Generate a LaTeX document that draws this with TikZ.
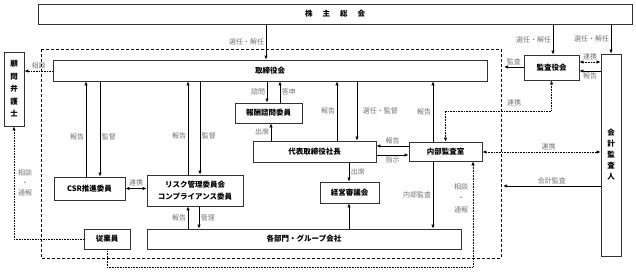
\documentclass[tikz,border=0pt]{standalone}
\usepackage{fontspec}
\newfontfamily\jp{Noto Sans CJK JP}
\usetikzlibrary{arrows.meta}

\begin{document}
\begin{tikzpicture}[x=1pt, y=-1pt, >={Latex[length=4pt,width=3.4pt]},
	box/.style={draw=black!80, line width=0.7pt, inner sep=0pt, align=center, font=\jp\bfseries\fontsize{7.5}{9}\selectfont},
	lbl/.style={font=\jp\fontsize{7}{8}\selectfont, text=black!55, inner sep=1.5pt},
	arr/.style={->, line width=0.9pt},
	dots/.style={line width=0.9pt, dash pattern=on 0.9pt off 0.7pt}]
	\useasboundingbox (0,0) rectangle (636,272);
	% boxes
	\node[box, minimum width=594pt, minimum height=20pt] (meeting) at (335,14) {株\hspace{10pt}主\hspace{10pt}総\hspace{10pt}会};
	\node[box, minimum width=434pt, minimum height=21pt] (board) at (270,70.5) {取締役会};
	\node[box, minimum width=20pt, minimum height=74pt, font=\jp\bfseries\fontsize{7.5}{12.5}\selectfont] (lawyer) at (14,89) {顧\\問\\弁\\護\\士};
	\node[box, minimum width=55pt, minimum height=25pt] (kansa) at (551.5,67.5) {監査役会};
	\node[box, minimum width=20pt, minimum height=202pt, font=\jp\bfseries\fontsize{7.5}{11}\selectfont] (account) at (611,155) {会\\計\\監\\査\\人};
	\node[box, minimum width=67pt, minimum height=20pt] (reward) at (268.5,113) {報酬諮問委員};
	\node[box, minimum width=123pt, minimum height=21pt] (ceo) at (314.5,151.5) {代表取締役社長};
	\node[box, minimum width=73pt, minimum height=19pt] (audit) at (445.5,151.5) {内部監査室};
	\node[box, minimum width=59pt, minimum height=21pt] (council) at (349.5,192.5) {経営審議会};
	\node[box, minimum width=314pt, minimum height=20pt] (depts) at (304,239) {各部門・グループ会社};
	\node[box, minimum width=46pt, minimum height=20pt] (staff) at (107,239) {従業員};
	\node[box, minimum width=71pt, minimum height=23pt] (csr) at (89.5,188.5) {CSR推進委員};
	\node[box, minimum width=96pt, minimum height=31pt, font=\jp\bfseries\fontsize{7.5}{12}\selectfont] (risk) at (195,190.5) {リスク管理委員会\\コンプライアンス委員};
	% company frame
	\draw[line width=0.9pt, dash pattern=on 3pt off 2pt] (41,49) rectangle (501,258);
	% shareholders
	\draw[arr] (meeting.south -| 266,0) -- node[lbl, left] {選任・解任} (board.north -| 266,0);
	\draw[arr] (meeting.south -| 553,0) -- node[lbl, left] {選任・解任} (kansa.north -| 553,0);
	\draw[arr] (meeting.south -| 611,0) -- node[lbl, left] {選任・解任} (account.north);
	% auditors
	\draw[dots, <->] (kansa.east |- 0,62) -- node[lbl, above] {連携} (account.west |- 0,62);
	\draw[arr] (account.west |- 0,71) -- node[lbl, below] {報告} (kansa.east |- 0,71);
	\coordinate (kansaend) at (504,67);
	\draw[arr] (kansa.west |- kansaend) -- node[lbl, above] {監査} (kansaend);
	\draw[dots, <->] (kansa.south) |- (audit.north |- 0,111) -- (audit.north);
	\node[lbl] (kansalink) at (514,103) {連携};
	% board and committees
	\draw[dots, ->] (board.west |- 0,71) -- node[lbl, above] {相談} (lawyer.east |- 0,71);
	\foreach \n/\u/\d in {csr/86/100, risk/188/200} {
		\draw[arr] (\n.north -| \u,0) -- node[lbl, left, pos=0.42] {報告} (board.south -| \u,0);
		\draw[arr] (board.south -| \d,0) -- node[lbl, right, pos=0.58] {監督} (\n.north -| \d,0);
	}
	\draw[<->, line width=0.9pt] (csr.east) -- node[lbl, above] {連携} (risk.west |- csr.east);
	\draw[arr] (depts.north -| 188,0) -- node[lbl, left] {報告} (risk.south -| 188,0);
	\draw[arr] (risk.south -| 199,0) -- node[lbl, right] {管理} (depts.north -| 199,0);
	\draw[arr] (board.south -| 267,0) -- node[lbl, left] {諮問} (reward.north -| 267,0);
	\draw[arr] (reward.north -| 280,0) -- node[lbl, right] {答申} (board.south -| 280,0);
	\draw[arr] (ceo.north -| 271,0) -- node[lbl, left] {出席} (reward.south -| 271,0);
	\draw[arr] (ceo.north -| 337,0) -- node[lbl, left] {報告} (board.south -| 337,0);
	\draw[arr] (board.south -| 357,0) -- node[lbl, right=4pt] {選任・監督} (ceo.north -| 357,0);
	\draw[arr] (audit.north -| 433,0) -- node[lbl, left] {報告} (board.south -| 433,0);
	% president and internal audit
	\draw[arr] (audit.west |- 0,146) -- node[lbl, above] {報告} (ceo.east |- 0,146);
	\draw[arr] (ceo.east |- 0,155) -- node[lbl, below] {指示} (audit.west |- 0,155);
	\draw[arr] (ceo.south -| 349,0) -- node[lbl, right] {出席} (council.north -| 349,0);
	\draw[arr] (depts.north -| 349,0) -- (council.south -| 349,0);
	\draw[arr] (audit.south -| 433,0) -- node[lbl, left] {内部監査} (depts.north -| 433,0);
	\draw[dots, <->] (audit.east |- 0,152) -- node[lbl, above, pos=0.56] {連携} (account.west |- 0,152);
	\coordinate (acctend) at (503,186);
	\draw[arr] (account.west |- acctend) -- node[lbl, above] {会計監査} (acctend);
	% whistleblowing
	\coordinate (lowdot) at (473,267);
	\draw[dots, ->] (staff.south) |- (lowdot) -- (audit.south -| lowdot);
	\node[lbl, align=center, font=\jp\fontsize{7}{11.5}\selectfont] (reportr) at (461,198) {相談\\・\\通報};
	\draw[dots, ->] (staff.west) -| (lawyer.south);
	\node[lbl, align=center, font=\jp\fontsize{7}{10}\selectfont] (reportl) at (25,183) {相談\\・\\通報};
\end{tikzpicture}
\end{document}
